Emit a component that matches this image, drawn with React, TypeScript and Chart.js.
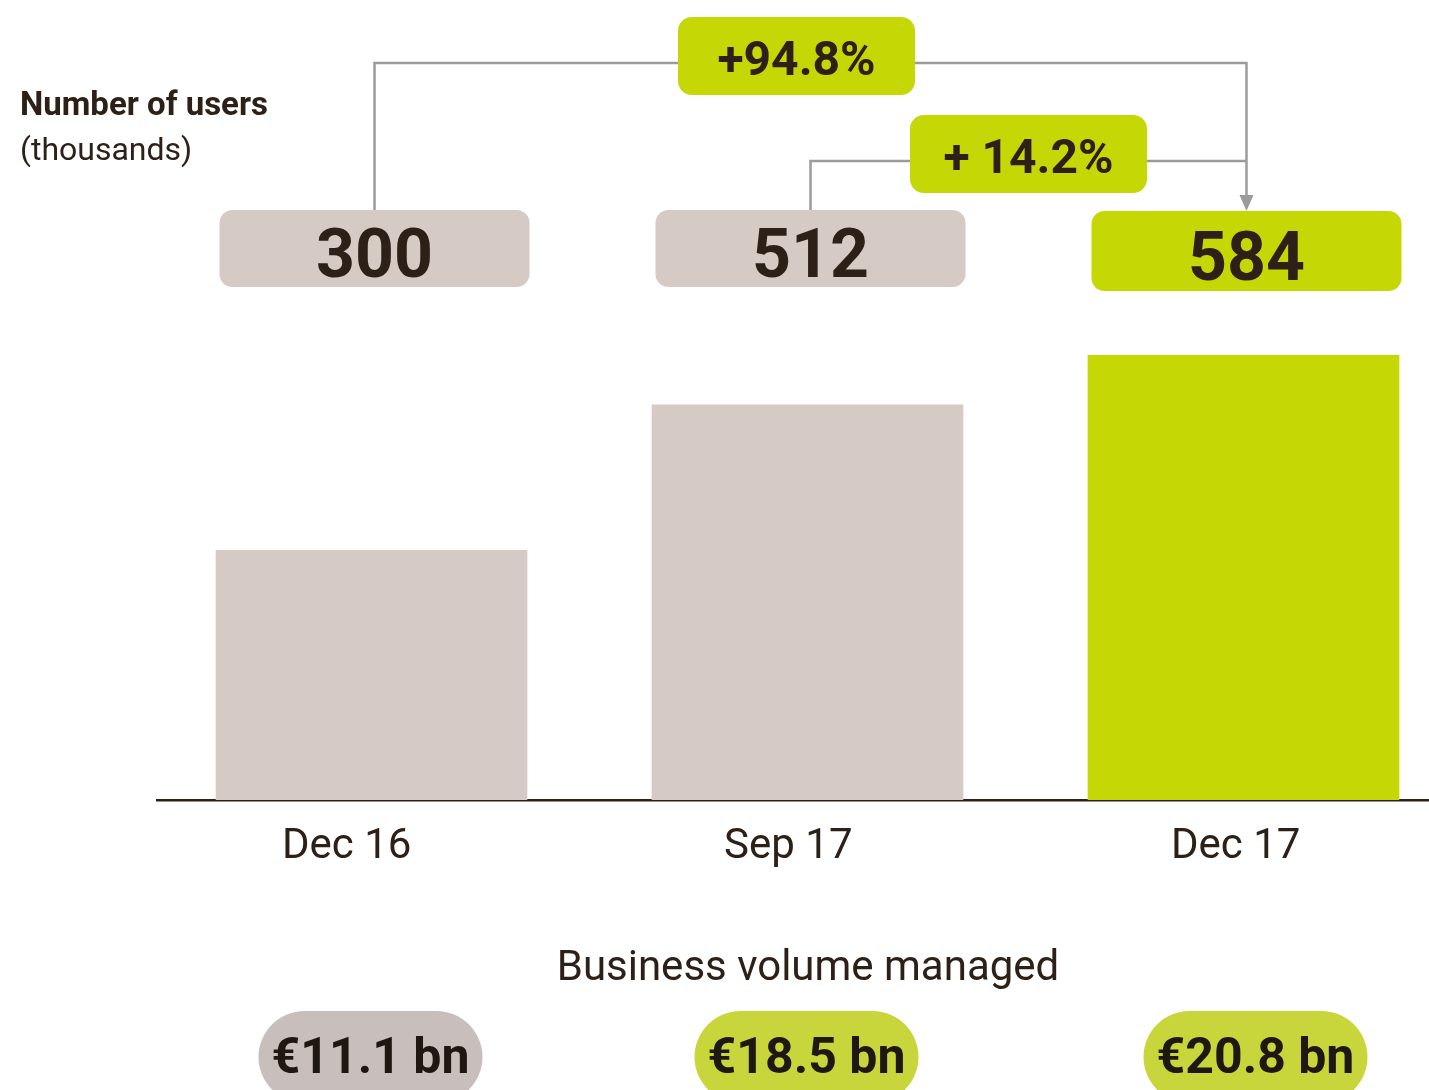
import React, { useEffect, useRef } from "react";
import { Chart, registerables } from "chart.js";
Chart.register(...registerables);

// ---- data ----
const categories = ["Dec 16", "Sep 17", "Dec 17"];
const users = [300, 512, 584];
const userLabels = ["300", "512", "584"];
const growthLabels = ["+94.8%", "+ 14.2%"];
const growthFromIndex = [0, 1];
const volumeLabels = ["€11.1 bn", "€18.5 bn", "€20.8 bn"];
const titleLines = ["Number of users", "(thousands)"];
const bottomTitle = "Business volume managed";

// ---- styles ----
const FONT = "Roboto, 'Noto Sans', 'DejaVu Sans', sans-serif";
const DARK = "#2d2117";
const GREY_BAR = "#d5cac4";
const GREEN = "#c5d705";
const LINE = "#9b9b9b";
const PILL_GREY = "#c8bebb";
const PILL_GREEN = "#c8d63c";
const Y_MIN = -64;
const Y_MAX = 621;
// small horizontal nudges of the category labels (in axis units)
const TICK_NUDGE = [-0.057, -0.044, -0.018];

const W = 1429;
const H = 1090;

function rr(ctx: CanvasRenderingContext2D, x: number, y: number, w: number, h: number, r: number, fill: string) {
  ctx.beginPath();
  (ctx as any).roundRect(x, y, w, h, r);
  ctx.fillStyle = fill;
  ctx.fill();
}

const overlay = {
  id: "overlay",
  afterDraw(chart: any) {
    const ctx: CanvasRenderingContext2D = chart.ctx;
    const meta = chart.getDatasetMeta(0);
    const xs: number[] = meta.data.map((b: any) => b.x + 3);
    const last = xs.length - 1;
    ctx.save();

    // title
    ctx.fillStyle = DARK;
    ctx.textAlign = "left";
    ctx.textBaseline = "alphabetic";
    ctx.font = `bold 33px ${FONT}`;
    ctx.fillText(titleLines[0], 20, 115);
    ctx.font = `32px ${FONT}`;
    ctx.fillText(titleLines[1], 20, 160);

    // connector lines
    ctx.strokeStyle = LINE;
    ctx.lineWidth = 2.5;
    const levels = [63, 161];
    growthFromIndex.forEach((from, k) => {
      ctx.beginPath();
      ctx.moveTo(xs[from], 210);
      ctx.lineTo(xs[from], levels[k]);
      ctx.lineTo(xs[last], levels[k]);
      if (k === 0) ctx.lineTo(xs[last], 198);
      ctx.stroke();
    });
    ctx.beginPath();
    ctx.moveTo(xs[last] - 7, 195);
    ctx.lineTo(xs[last] + 7, 195);
    ctx.lineTo(xs[last], 211);
    ctx.closePath();
    ctx.fillStyle = LINE;
    ctx.fill();

    // growth boxes
    const boxTops = [17, 115];
    const boxShift = [-14, 0];
    growthFromIndex.forEach((from, k) => {
      const cx = (xs[from] + xs[last]) / 2 + boxShift[k];
      rr(ctx, cx - 118.5, boxTops[k], 237, 78, 14, GREEN);
      ctx.fillStyle = DARK;
      ctx.textAlign = "center";
      ctx.font = `bold 48px ${FONT}`;
      ctx.fillText(growthLabels[k], cx, boxTops[k] + 58);
    });

    // value boxes
    xs.forEach((x, i) => {
      const isLast = i === last;
      const top = isLast ? 211 : 210;
      const h = isLast ? 80 : 77;
      rr(ctx, x - 155, top, 310, h, 13, isLast ? GREEN : GREY_BAR);
      ctx.fillStyle = DARK;
      ctx.textAlign = "center";
      ctx.font = `bold 68px ${FONT}`;
      ctx.fillText(userLabels[i], x, isLast ? 280 : 277);
    });

    // bottom title
    ctx.fillStyle = DARK;
    ctx.font = `42px ${FONT}`;
    ctx.textAlign = "center";
    ctx.fillText(bottomTitle, 808, 980);

    // pills
    const pillShift = [-4, -4, 9];
    xs.forEach((x, i) => {
      const cx = x + pillShift[i];
      rr(ctx, cx - 112, 1011, 224, 92, 46, i === 0 ? PILL_GREY : PILL_GREEN);
      ctx.fillStyle = "#1e1712";
      ctx.font = `bold 50px ${FONT}`;
      ctx.textAlign = "center";
      ctx.fillText(volumeLabels[i], cx, 1073);
    });

    ctx.restore();
  },
};

export default function App() {
  const ref = useRef<HTMLCanvasElement>(null);
  useEffect(() => {
    if (!ref.current) return;
    const chart = new Chart(ref.current, {
      type: "bar",
      data: {
        datasets: [
          {
            data: users.map((v, i) => ({ x: i, y: v })),
            backgroundColor: users.map((_, i) => (i === users.length - 1 ? GREEN : GREY_BAR)),
            barThickness: 311,
            base: Y_MIN,
            borderWidth: 0,
          } as any,
        ],
      },
      options: {
        animation: false,
        responsive: false,
        layout: { padding: { top: 330, left: 157, right: 0, bottom: 0 } },
        plugins: { legend: { display: false }, tooltip: { enabled: false } },
        scales: {
          x: {
            type: "linear",
            offset: false,
            bounds: "data",
            min: -0.492,
            max: 2.4255,
            grid: { display: false, drawTicks: false, offset: false },
            border: { display: true, color: DARK, width: 2.5 },
            afterBuildTicks: (scale: any) => {
              scale.ticks = categories.map((_, i) => ({ value: i + TICK_NUDGE[i] }));
            },
            afterFit: (scale: any) => {
              scale.height = 290;
            },
            ticks: {
              callback: (v: any) => categories[Math.round(Number(v))] ?? "",
              font: { family: FONT, size: 42 },
              color: DARK,
              padding: 22,
              maxRotation: 0,
              autoSkip: false,
            },
          },
          y: { display: false, min: Y_MIN, max: Y_MAX },
        },
      } as any,
      plugins: [overlay],
    });
    return () => chart.destroy();
  }, []);
  return (
    <div style={{ position: "absolute", left: 0, top: 0, width: W, height: H, overflow: "hidden", background: "#fff" }}>
      <canvas ref={ref} width={W} height={H} style={{ width: W, height: H, display: "block" }} />
    </div>
  );
}
